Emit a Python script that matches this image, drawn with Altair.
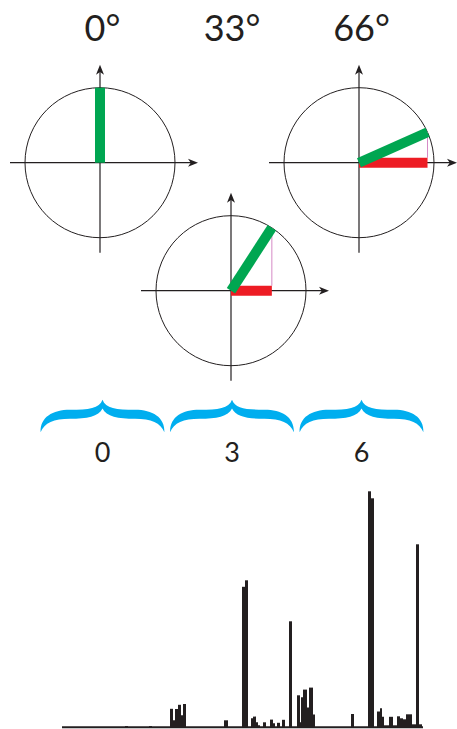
import altair as alt
import numpy as np
import pandas as pd

# ---------------------------------------------------------------- values
dial_angle = [0, 33, 66]   # rotation shown on each dial, degrees
time_tick = [0, 3, 6]      # time-line mark that belongs to each dial

# spectrum, as runs of channels [start, stop) that share one intensity
run_start = [63, 87, 108, 111, 113, 116, 119, 121, 162, 180, 183, 189, 191, 194,
             196, 201, 208, 211, 215, 220, 227, 235, 238, 239, 241, 245, 247, 251,
             289, 306, 309, 315, 318, 320, 322, 327, 331, 335, 338, 341, 344, 350,
             354, 357]
run_stop = [66, 90, 111, 113, 116, 119, 121, 124, 166, 183, 186, 191, 194, 196,
            198, 204, 211, 213, 218, 223, 230, 238, 239, 241, 245, 247, 251, 253,
            292, 309, 312, 318, 320, 322, 327, 331, 335, 338, 341, 344, 350, 354,
            357, 360]
run_level = [1.2, 1.2, 18.5, 7, 18.3, 22.5, 12, 23.3, 7, 140.5, 147, 9, 10.7, 5,
             2, 5, 7.7, 4, 4.5, 7.5, 106, 32, 5, 30, 37.7, 19.7, 39.7, 12.7,
             13.3, 236, 229, 15.8, 19, 10.5, 2, 10.5, 2, 11, 9, 8, 13, 3,
             183, 3]
spectrum_channels = 361

# ---------------------------------------------------------------- layout
W, H = 457, 729
INK, GREEN, RED, PINK, BLUE = "#231F20", "#00A651", "#ED1C24", "#D58AC6", "#00AEEF"
FONT = "Lato"

dial_cx = [100, 231, 359]
dial_cy = [162.7, 290.7, 162.7]
R = 75                      # dial radius
AXIS_TAIL, AXIS_HEAD = 90, 93

TICK_PX0, TICK_STEP = 102.5, 43.17       # time-line origin and spacing
SPEC_X0, SPEC_BASE = 62, 727.3           # spectrum origin

# scales: page pixels, time line, spectrum
px_x = alt.Scale(domain=[0, W], nice=False, zero=False)
px_y = alt.Scale(domain=[0, H], reverse=True, nice=False, zero=False)
tick_x = alt.Scale(domain=[-TICK_PX0 / TICK_STEP, (W - TICK_PX0) / TICK_STEP],
                   nice=False, zero=False)
spec_x = alt.Scale(domain=[-SPEC_X0, W - SPEC_X0], nice=False, zero=False)
spec_y = alt.Scale(domain=[SPEC_BASE - H, SPEC_BASE], nice=False, zero=False)

ARROW_RIGHT = "M 1,0 L -1,-0.8 L -0.45,0 L -1,0.8 Z"
ARROW_UP = "M 0,-1 L -0.8,1 L 0,0.45 L 0.8,1 Z"
BRACE = ("M -0.99,0.26 C -1.0,0.02 -0.8,-0.1 -0.52,-0.1 "
         "C -0.22,-0.1 -0.05,-0.12 0,-0.26 "
         "C 0.05,-0.12 0.22,-0.1 0.52,-0.1 "
         "C 0.8,-0.1 1.0,0.02 0.99,0.26 "
         "C 0.93,0.11 0.78,0.045 0.52,0.045 "
         "C 0.25,0.045 0.06,0.01 0,-0.12 "
         "C -0.06,0.01 -0.25,0.045 -0.52,0.045 "
         "C -0.78,0.045 -0.93,0.11 -0.99,0.26 Z")

# ---------------------------------------------------------------- tables
rad = np.radians(dial_angle)
dials = pd.DataFrame({"angle": dial_angle, "tick": time_tick,
                      "cx": dial_cx, "cy": dial_cy})
dials["ex"] = dials["cx"] + R * np.sin(rad)
dials["ey"] = dials["cy"] - R * np.cos(rad)
dials["hx1"] = dials["cx"] - AXIS_TAIL
dials["hx2"] = dials["cx"] + AXIS_HEAD
dials["vy1"] = dials["cy"] + AXIS_TAIL
dials["vy2"] = dials["cy"] - AXIS_HEAD
dials["pink_top"] = dials["cy"] - 5
dials["label"] = [f"{a}°" for a in dial_angle]
dials["tick_label"] = [str(t) for t in time_tick]
dials["label_y"] = 40.7
dials["brace_y"] = 416
dials["tick_y"] = 461.7

spectrum = pd.DataFrame({"start": run_start, "stop": run_stop, "level": run_level})
base = pd.DataFrame({"c0": [0], "c1": [spectrum_channels], "z": [0]})


def X(f, s=px_x):
    return alt.X(f, type="quantitative", scale=s, axis=None)


def Y(f, s=px_y):
    return alt.Y(f, type="quantitative", scale=s, axis=None)


d = alt.Chart(dials)
turned = d.transform_filter("datum.angle > 0")

circles = d.mark_point(shape="circle", filled=False, size=(2 * R) ** 2,
                       stroke=INK, strokeWidth=1, opacity=1).encode(x=X("cx"), y=Y("cy"))
h_axes = d.mark_rule(color=INK, strokeWidth=1.2).encode(x=X("hx1"), x2="hx2", y=Y("cy"))
v_axes = d.mark_rule(color=INK, strokeWidth=1.2).encode(x=X("cx"), y=Y("vy1"), y2="vy2")
heads_r = d.mark_point(shape=ARROW_RIGHT, filled=True, size=100, color=INK,
                       opacity=1).encode(x=X("hx2"), y=Y("cy"))
heads_u = d.mark_point(shape=ARROW_UP, filled=True, size=100, color=INK,
                       opacity=1).encode(x=X("cx"), y=Y("vy2"))
pink = turned.mark_rule(color=PINK, strokeWidth=1).encode(
    x=X("ex"), y=Y("pink_top"), y2="ey")
red = turned.mark_rule(color=RED, strokeWidth=10, strokeCap="butt").encode(
    x=X("cx"), x2="ex", y=Y("cy"))
green = d.mark_rule(color=GREEN, strokeWidth=10, strokeCap="butt").encode(
    x=X("cx"), y=Y("cy"), x2="ex", y2="ey")

deg_labels = d.mark_text(font=FONT, fontSize=36, fontWeight="normal", color=INK,
                         baseline="alphabetic", align="center").encode(
    x=X("tick", tick_x), y=Y("label_y"), text="label:N")
braces = d.mark_point(shape=BRACE, filled=True, size=(2 * 62.5) ** 2, color=BLUE,
                      opacity=1).encode(x=X("tick", tick_x), y=Y("brace_y"))
tick_labels = d.mark_text(font=FONT, fontSize=27, fontWeight="normal", color=INK,
                          baseline="alphabetic", align="center").encode(
    x=X("tick", tick_x), y=Y("tick_y"), text="tick_label:N")

baseline = alt.Chart(base).mark_rule(color=INK, strokeWidth=2).encode(
    x=X("c0", spec_x), x2="c1", y=Y("z", spec_y))
peaks = alt.Chart(spectrum).mark_rect(color=INK).encode(
    x=X("start", spec_x), x2="stop", y=Y("level", spec_y), y2=alt.Y2(datum=0))

chart = alt.layer(
    circles, h_axes, v_axes, heads_r, heads_u, pink, red, green,
    deg_labels, braces, tick_labels, baseline, peaks,
).resolve_scale(x="independent", y="independent").properties(
    width=W, height=H, padding=0, autosize="none", background="white",
).configure_view(stroke=None)

chart.save("out.html", embed_options={"renderer": "svg", "actions": False})
